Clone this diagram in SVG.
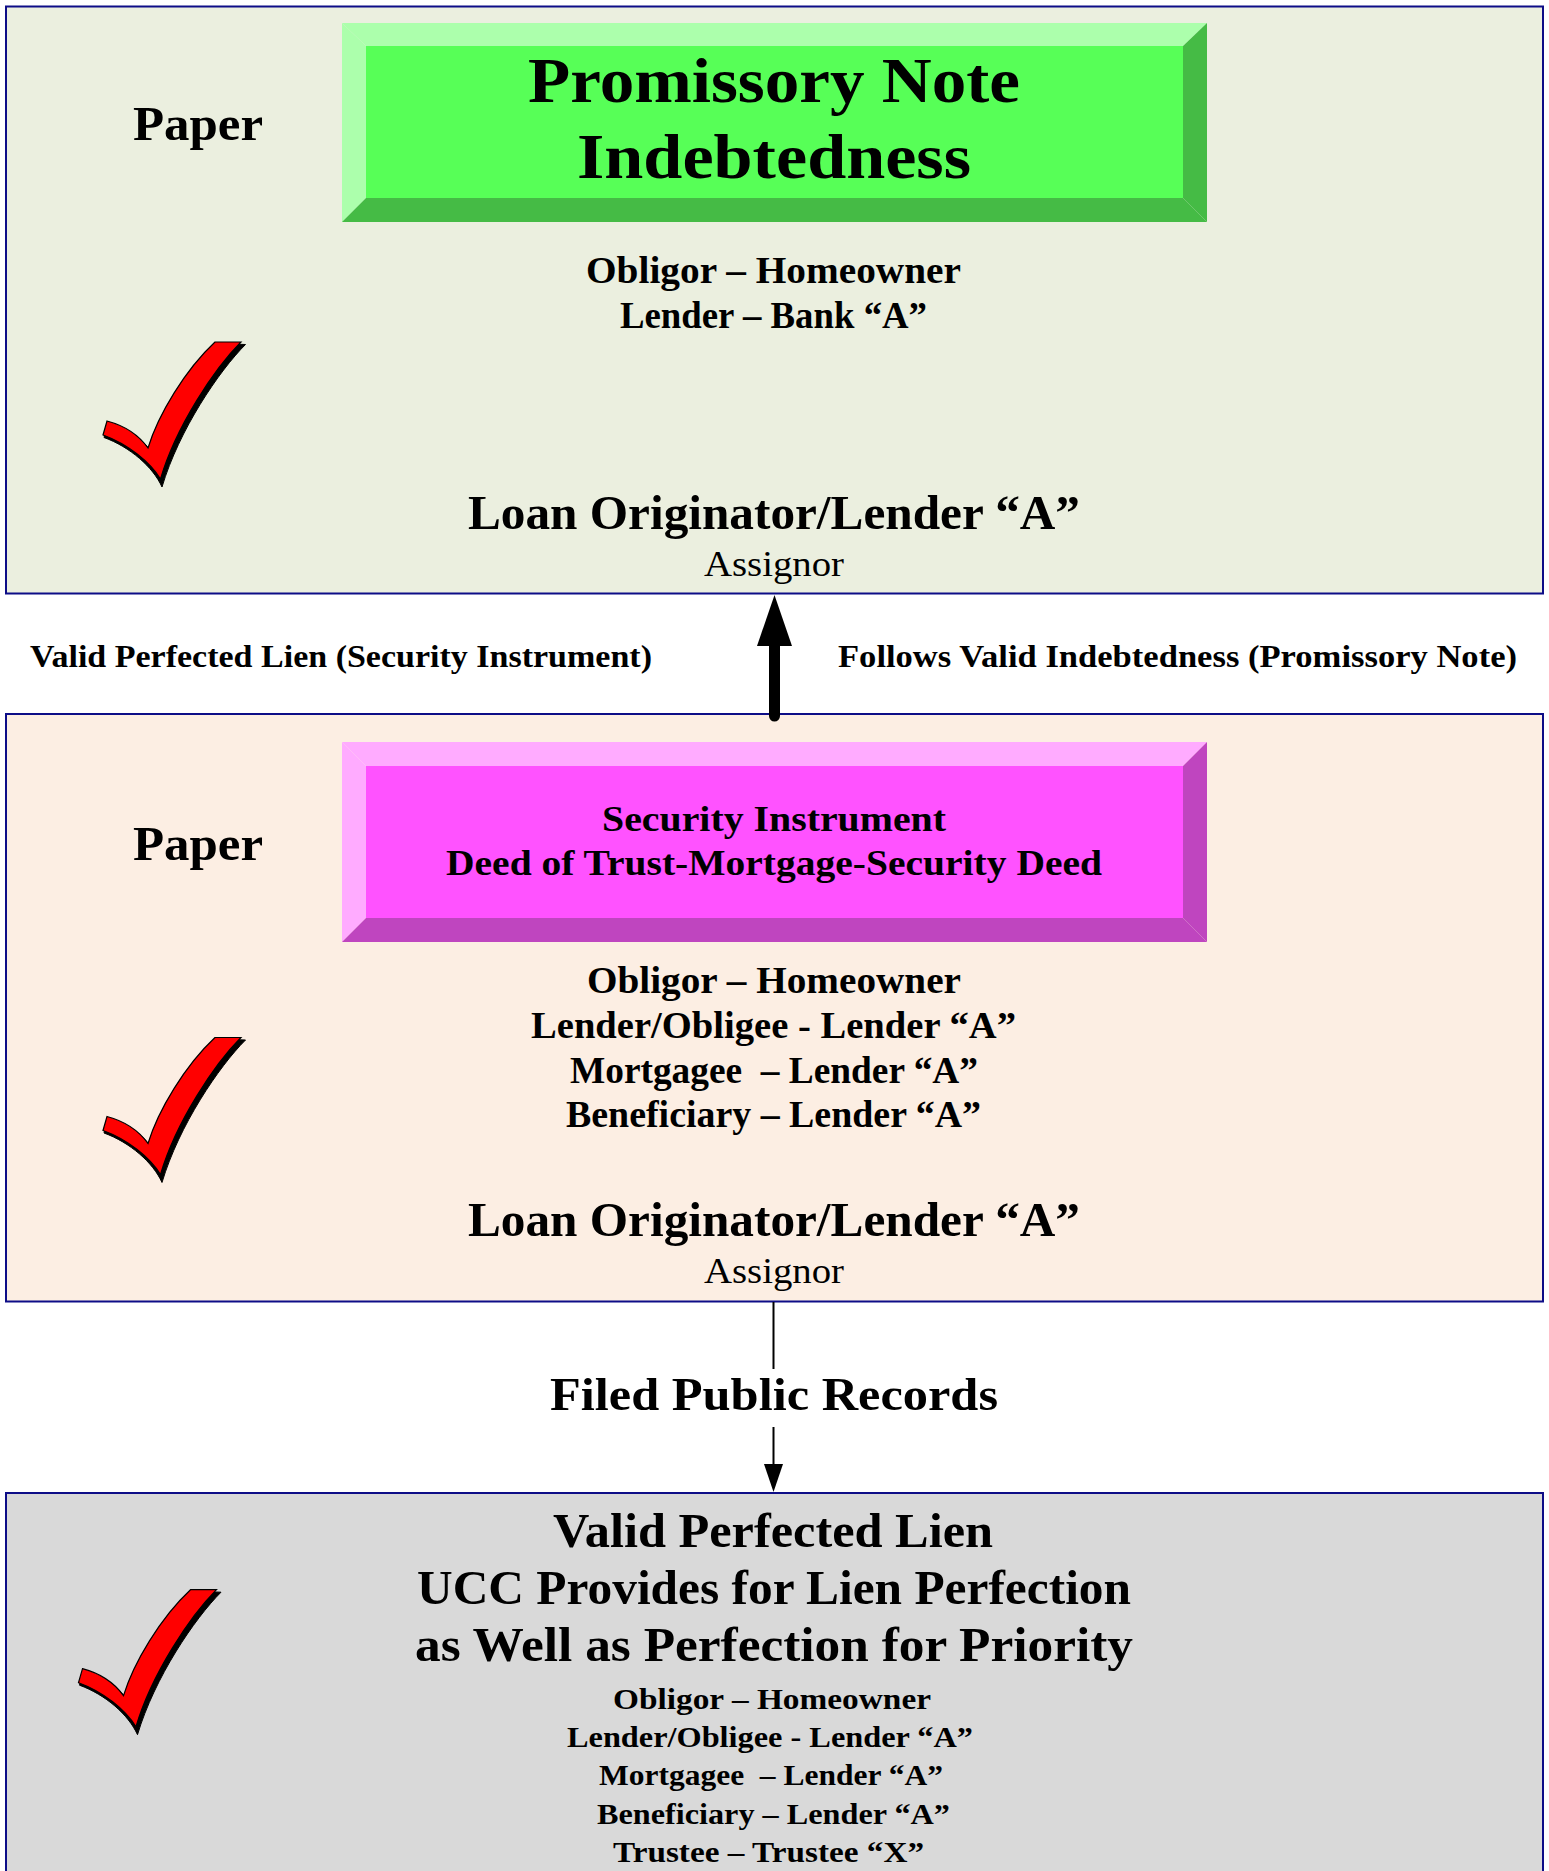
<svg xmlns="http://www.w3.org/2000/svg" xmlns:xlink="http://www.w3.org/1999/xlink" width="1549" height="1871" viewBox="0 0 1549 1871">
  <style>
    text { font-family: "Liberation Serif", "Times New Roman", serif; fill: #000; }
    .b { font-weight: bold; }
    .r { font-weight: normal; }
    .panel { stroke: #0D0D87; stroke-width: 2; }
    .p1 { fill: #EBEFDF; }
    .p2 { fill: #FCEEE3; }
    .p3 { fill: #D9D9D9; }
    .gFace { fill: #57FF57; } .gLight { fill: #ACFFAC; } .gDark { fill: #45BB45; }
    .mFace { fill: #FF52FF; } .mLight { fill: #FFABFF; } .mDark { fill: #BF45BF; }
    .thick { stroke: #000; stroke-width: 11; stroke-linecap: round; fill: none; }
    .thin { stroke: #000; stroke-width: 2; fill: none; }
  </style>
  <defs>
    <marker id="headBig" markerUnits="userSpaceOnUse" viewBox="0 -18 52 36" markerWidth="52" markerHeight="36" refX="0" refY="0" orient="auto">
      <path d="M0,-17.5 L51,0 L0,17.5 Z" fill="#000"/>
    </marker>
    <marker id="headSmall" markerUnits="userSpaceOnUse" viewBox="0 -10 29 20" markerWidth="29" markerHeight="20" refX="0" refY="0" orient="auto">
      <path d="M0,-9.5 L28,0 L0,9.5 Z" fill="#000"/>
    </marker>
    <!-- red tick with a black drop shadow -->
    <g id="check">
      <path d="M217,343.5 L245.5,344.5 C219,371 179,430 162,487 C153,467 130,447 104,437.5 L108,423 C124,427 140,436 150,450 C160,416 187,371 217,343.5 Z" fill="#000" stroke="#000" stroke-width="1"/>
      <path d="M215,342 L241,342 C215,368 176,426 160.5,479 C150,462 128,444 103,435 L107,421 C122,425 138,434 148,448 C158,415 185,370 215,342 Z" fill="#FF0000" stroke="#000" stroke-width="1.2"/>
    </g>
  </defs>

  <rect width="1549" height="1871" fill="#FFFFFF"/>

  <!-- Promissory note panel -->
  <g id="note-panel">
    <rect class="panel p1" x="6" y="6.5" width="1537" height="587"/>
    <text class="b" x="133" y="140" font-size="48" textLength="130" lengthAdjust="spacingAndGlyphs">Paper</text>
    <use xlink:href="#check" href="#check"/>
    <text class="b" x="586" y="283" font-size="37" textLength="375" lengthAdjust="spacingAndGlyphs">Obligor – Homeowner</text>
    <text class="b" x="620" y="328" font-size="37" textLength="307" lengthAdjust="spacingAndGlyphs">Lender – Bank “A”</text>
    <text class="b" x="468" y="529" font-size="48" textLength="612" lengthAdjust="spacingAndGlyphs">Loan Originator/Lender “A”</text>
    <text class="r" x="704" y="576" font-size="36" textLength="140" lengthAdjust="spacingAndGlyphs">Assignor</text>
  </g>

  <g id="note-box">
    <polygon class="gLight" points="342,23 1207,23 1183,46 366,46"/>
    <polygon class="gLight" points="342,23 366,46 366,198 342,222"/>
    <polygon class="gDark" points="1207,23 1207,222 1183,198 1183,46"/>
    <polygon class="gDark" points="342,222 366,198 1183,198 1207,222"/>
    <rect class="gFace" x="366" y="46" width="817" height="152"/>
    <text class="b" x="528" y="102" font-size="63" textLength="492" lengthAdjust="spacingAndGlyphs">Promissory Note</text>
    <text class="b" x="577" y="178" font-size="63" textLength="394" lengthAdjust="spacingAndGlyphs">Indebtedness</text>
  </g>

  <!-- Security instrument panel -->
  <g id="security-panel">
    <rect class="panel p2" x="6" y="714" width="1537" height="587.5"/>
    <text class="b" x="133" y="860" font-size="48" textLength="130" lengthAdjust="spacingAndGlyphs">Paper</text>
    <use xlink:href="#check" href="#check" transform="translate(0,695.5)"/>
    <text class="b" x="587" y="993" font-size="37" textLength="374" lengthAdjust="spacingAndGlyphs">Obligor – Homeowner</text>
    <text class="b" x="531" y="1038" font-size="37" textLength="485" lengthAdjust="spacingAndGlyphs">Lender/Obligee - Lender “A”</text>
    <text class="b" x="570" y="1083" font-size="37" textLength="408" lengthAdjust="spacingAndGlyphs" xml:space="preserve">Mortgagee  – Lender “A”</text>
    <text class="b" x="566" y="1127" font-size="37" textLength="415" lengthAdjust="spacingAndGlyphs">Beneficiary – Lender “A”</text>
    <text class="b" x="468" y="1236" font-size="48" textLength="612" lengthAdjust="spacingAndGlyphs">Loan Originator/Lender “A”</text>
    <text class="r" x="704" y="1283" font-size="36" textLength="140" lengthAdjust="spacingAndGlyphs">Assignor</text>
  </g>

  <g id="security-box">
    <polygon class="mLight" points="342,742 1207,742 1183,766 366,766"/>
    <polygon class="mLight" points="342,742 366,766 366,918 342,942"/>
    <polygon class="mDark" points="1207,742 1207,942 1183,918 1183,766"/>
    <polygon class="mDark" points="342,942 366,918 1183,918 1207,942"/>
    <rect class="mFace" x="366" y="766" width="817" height="152"/>
    <text class="b" x="602" y="831" font-size="36" textLength="344" lengthAdjust="spacingAndGlyphs">Security Instrument</text>
    <text class="b" x="446" y="875" font-size="36" textLength="656" lengthAdjust="spacingAndGlyphs">Deed of Trust-Mortgage-Security Deed</text>
  </g>

  <!-- Perfected lien panel -->
  <g id="lien-panel">
    <rect class="panel p3" x="6" y="1493" width="1537" height="400"/>
    <use xlink:href="#check" href="#check" transform="translate(-24.5,1247.7)"/>
    <text class="b" x="553" y="1547" font-size="48" textLength="440" lengthAdjust="spacingAndGlyphs">Valid Perfected Lien</text>
    <text class="b" x="417" y="1604" font-size="48" textLength="714" lengthAdjust="spacingAndGlyphs">UCC Provides for Lien Perfection</text>
    <text class="b" x="415" y="1661" font-size="48" textLength="718" lengthAdjust="spacingAndGlyphs">as Well as Perfection for Priority</text>
    <text class="b" x="613" y="1709" font-size="30" textLength="318" lengthAdjust="spacingAndGlyphs">Obligor – Homeowner</text>
    <text class="b" x="567" y="1747" font-size="30" textLength="406" lengthAdjust="spacingAndGlyphs">Lender/Obligee - Lender “A”</text>
    <text class="b" x="599" y="1785" font-size="30" textLength="344" lengthAdjust="spacingAndGlyphs" xml:space="preserve">Mortgagee  – Lender “A”</text>
    <text class="b" x="597" y="1824" font-size="30" textLength="353" lengthAdjust="spacingAndGlyphs">Beneficiary – Lender “A”</text>
    <text class="b" x="613" y="1862" font-size="30" textLength="311" lengthAdjust="spacingAndGlyphs">Trustee – Trustee “X”</text>
  </g>

  <!-- Connectors and their labels -->
  <g id="connectors">
    <line class="thick" x1="774.5" y1="716" x2="774.5" y2="646" marker-end="url(#headBig)"/>
    <text class="b" x="30" y="667" font-size="31" textLength="622" lengthAdjust="spacingAndGlyphs">Valid Perfected Lien (Security Instrument)</text>
    <text class="b" x="838" y="667" font-size="31" textLength="679" lengthAdjust="spacingAndGlyphs">Follows Valid Indebtedness (Promissory Note)</text>
    <line class="thin" x1="773.5" y1="1302" x2="773.5" y2="1369"/>
    <text class="b" x="550" y="1410" font-size="47" textLength="448" lengthAdjust="spacingAndGlyphs">Filed Public Records</text>
    <line class="thin" x1="773.5" y1="1427" x2="773.5" y2="1464" marker-end="url(#headSmall)"/>
  </g>
</svg>
